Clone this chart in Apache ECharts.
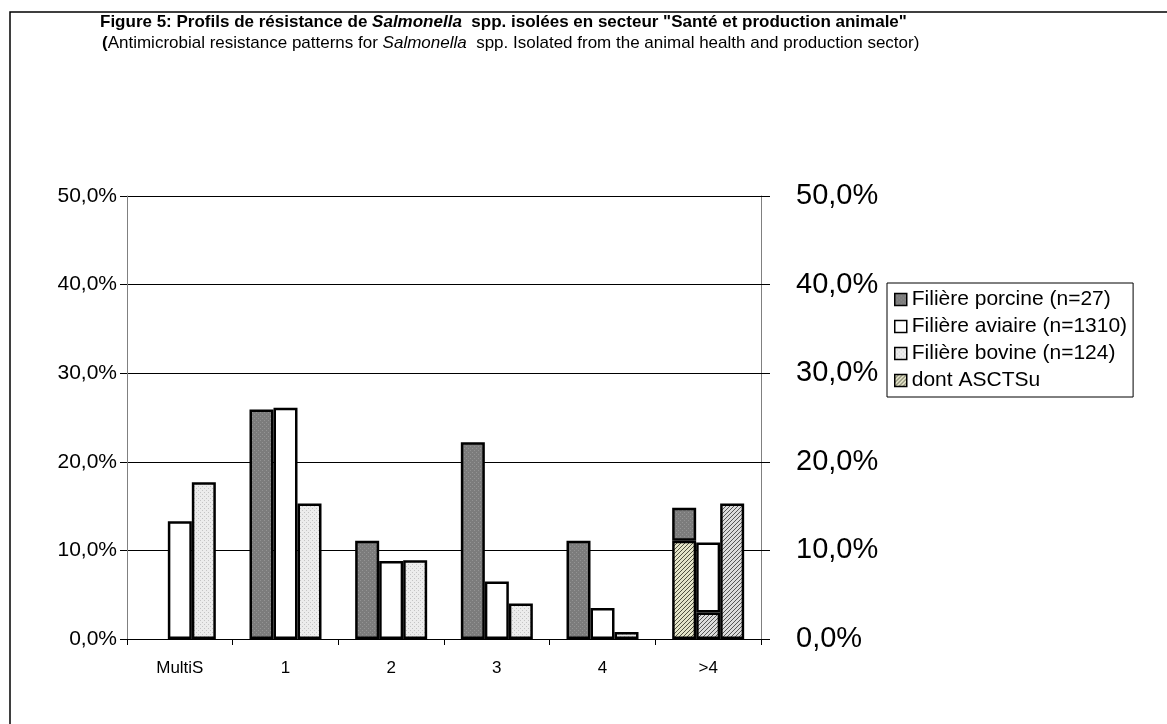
<!DOCTYPE html>
<html>
<head>
<meta charset="utf-8">
<script src="https://cdn.jsdelivr.net/npm/echarts@6/dist/echarts.min.js"></script>
<style>
  html, body { margin: 0; padding: 0; background: #fff; }
  #chart { width: 1167px; height: 724px; }
</style>
</head>
<body>
<div id="chart"></div>
<script>
// values (%)
const categories = ['MultiS', '1', '2', '3', '4', '>4']
const porcine = [0, 25.9, 11.1, 22.2, 11.1, 14.8]
const aviaire = [13.3, 26.1, 8.8, 6.5, 3.5, 10.9]
const bovine = [17.7, 15.3, 8.9, 4.0, 0.8, 15.3]
// part "dont ASCTSu" inside each bar (only for >4)
const asctsuPorcine = ['-', '-', '-', '-', '-', 11.1]
const asctsuAviaire = ['-', '-', '-', '-', '-', 3.0]
const asctsuBovine = ['-', '-', '-', '-', '-', 15.3]
const yTicks = [0, 10, 20, 30, 40, 50]

const FONT = '"Liberation Sans", Arial, sans-serif'

// small canvas textures to mimic the excel fills
const makePattern = (bg, fg, kind) => {
    const c = document.createElement('canvas')
    c.width = 4
    c.height = 4
    const ctx = c.getContext('2d')
    ctx.fillStyle = bg
    ctx.fillRect(0, 0, 4, 4)
    ctx.fillStyle = fg
    if (kind === 'dots') {
        ctx.fillRect(0, 0, 1, 1)
        ctx.fillRect(2, 2, 1, 1)
    } else {
        for (let i = 0; i < 4; i++) ctx.fillRect(i, 3 - i, 1, 1)
    }
    return { image: c, repeat: 'repeat' }
}

const fillPorcine = makePattern('#7c7c7c', '#949494', 'dots')
const fillAviaire = '#ffffff'
const fillBovine = makePattern('#ececec', '#c4c4c4', 'dots')
const hatchYellow = makePattern('#e4e4c8', '#505040', 'hatch')
const hatchGrey = makePattern('#dcdcdc', '#555555', 'hatch')

// top part of a bar once the ASCTSu part is taken out
const rest = (total, part) => total.map((v, i) => part[i] === '-' ? v : +(v - part[i]).toFixed(1))

// a bar of height 0 is not drawn at all in the original
const hideZero = arr => arr.map(v => v === 0 ? { value: 0, itemStyle: { borderWidth: 0 } } : v)

const pctLabel = v => v.toFixed(1).replace('.', ',') + '%'

const barStyle = fill => ({ color: fill, borderColor: '#000', borderWidth: 2.5 })

const chart = echarts.init(document.getElementById('chart'))

const titleRich = {
    b: { fontFamily: FONT, fontWeight: 'bold', fontSize: 17, color: '#000' },
    bi: { fontFamily: FONT, fontWeight: 'bold', fontStyle: 'italic', fontSize: 17, color: '#000' },
    n: { fontFamily: FONT, fontWeight: 'normal', fontSize: 17, color: '#000' },
    i: { fontFamily: FONT, fontWeight: 'normal', fontStyle: 'italic', fontSize: 17, color: '#000' }
}

chart.setOption({
    animation: false,
    backgroundColor: '#fff',
    textStyle: { fontFamily: FONT },
    title: [{
        left: 95,
        top: 9,
        text: '{b|Figure 5: Profils de résistance de }{bi|Salmonella}{b|  spp. isolées en secteur "Santé et production animale"}',
        textStyle: { fontWeight: 'normal', rich: titleRich }
    }, {
        left: 97,
        top: 30,
        text: '{b|(}{n|Antimicrobial resistance patterns for }{i|Salmonella}{n|  spp. Isolated from the animal health and production sector)}',
        textStyle: { fontWeight: 'normal', rich: titleRich }
    }],
    graphic: [{
        type: 'rect',
        shape: { x: 10, y: 12, width: 1400, height: 900 },
        style: { fill: 'none', stroke: '#000', lineWidth: 1.5 },
        silent: true
    }],
    legend: {
        orient: 'vertical',
        left: 887,
        top: 283,
        padding: [6, 6, 6, 7],
        itemGap: 6,
        itemWidth: 12,
        itemHeight: 12,
        icon: 'rect',
        backgroundColor: '#fff',
        borderColor: '#000',
        borderWidth: 1,
        selectedMode: false,
        data: ['Filière porcine (n=27)', 'Filière aviaire (n=1310)', 'Filière bovine (n=124)', 'dont ASCTSu'],
        itemStyle: { borderColor: '#000', borderWidth: 1.5 },
        textStyle: { fontSize: 21, color: '#000' }
    },
    grid: { left: 127, right: 406, top: 196, bottom: 85 },
    xAxis: {
        type: 'category',
        data: categories,
        axisLine: { lineStyle: { color: '#000', width: 1 } },
        axisTick: { show: true, length: 6, lineStyle: { color: '#000' } },
        axisLabel: { fontSize: 17, color: '#000', margin: 21 }
    },
    yAxis: [{
        type: 'value',
        min: yTicks[0],
        max: yTicks[yTicks.length - 1],
        interval: 10,
        axisLine: { show: true, lineStyle: { color: '#808080' } },
        axisTick: { show: true, length: 7, lineStyle: { color: '#000' } },
        axisLabel: { fontSize: 21, color: '#000', margin: 10, formatter: pctLabel },
        splitLine: { lineStyle: { color: '#000', width: 1 } }
    }, {
        type: 'value',
        position: 'right',
        min: yTicks[0],
        max: yTicks[yTicks.length - 1],
        interval: 10,
        axisLine: { show: true, lineStyle: { color: '#808080' } },
        axisTick: { show: true, length: 9, lineStyle: { color: '#000' } },
        axisLabel: { fontSize: 29, color: '#000', margin: 35, formatter: pctLabel },
        splitLine: { show: false }
    }],
    series: [
        { name: 'dont ASCTSu', type: 'bar', stack: 'p', barWidth: 24, barGap: '0%', data: asctsuPorcine, itemStyle: barStyle(hatchYellow) },
        { name: 'Filière porcine (n=27)', type: 'bar', stack: 'p', barWidth: 24, barGap: '0%', data: hideZero(rest(porcine, asctsuPorcine)), itemStyle: barStyle(fillPorcine) },
        { name: 'dont ASCTSu', type: 'bar', stack: 'a', barWidth: 24, barGap: '0%', data: asctsuAviaire, itemStyle: barStyle(hatchGrey) },
        { name: 'Filière aviaire (n=1310)', type: 'bar', stack: 'a', barWidth: 24, barGap: '0%', data: hideZero(rest(aviaire, asctsuAviaire)), itemStyle: barStyle(fillAviaire) },
        { name: 'dont ASCTSu', type: 'bar', stack: 'b', barWidth: 24, barGap: '0%', data: asctsuBovine, itemStyle: barStyle(hatchGrey) },
        { name: 'Filière bovine (n=124)', type: 'bar', stack: 'b', barWidth: 24, barGap: '0%', data: hideZero(rest(bovine, asctsuBovine)), itemStyle: barStyle(fillBovine) }
    ]
})

window.addEventListener('resize', () => chart.resize())
</script>
</body>
</html>
